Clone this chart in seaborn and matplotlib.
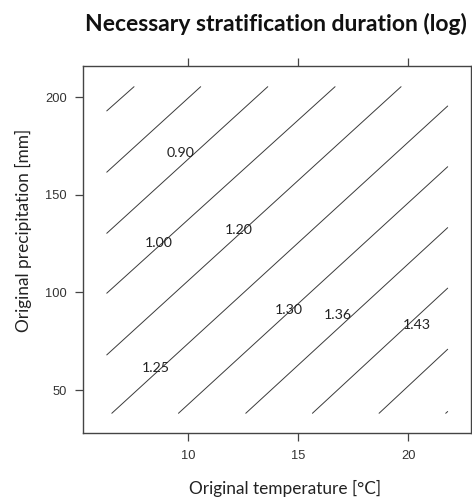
import numpy as np
import pandas as pd
import matplotlib
matplotlib.use("Agg")
import matplotlib.pyplot as plt
import seaborn as sns

# ---- data (contour lines as start/end points) ----
line_id  = ["L1", "L2", "L3", "L4", "L5", "L6", "L7", "L8", "L9", "L10", "L11"]
start_T  = [6.29, 6.29, 6.29, 6.29, 6.29, 6.52, 9.55, 12.61, 15.64, 18.67, 21.70]
start_P  = [193.0, 161.6, 130.3, 99.6, 68.0, 38.1, 38.1, 38.1, 38.1, 38.1, 38.1]
end_T    = [7.53, 10.56, 13.61, 16.67, 19.67, 21.79, 21.79, 21.79, 21.79, 21.79, 21.79]
end_P    = [205.4, 205.4, 205.4, 205.4, 205.4, 195.5, 164.4, 133.2, 102.2, 70.9, 39.0]

# contour labels and where they sit
label_text = ["0.90", "1.00", "1.20", "1.25", "1.30", "1.36", "1.43"]
label_T    = [9.64, 8.65, 12.29, 8.54, 14.55, 16.78, 20.37]
label_P    = [171.5, 125.1, 132.0, 61.4, 90.8, 88.2, 83.4]

x_ticks = [10, 15, 20]
y_ticks = [50, 100, 150, 200]

title = "Necessary stratification duration (log)"
x_label = "Original temperature [°C]"
y_label = "Original precipitation [mm]"

# ---- build a long table ----
rows = []
for lid, t0, p0, t1, p1 in zip(line_id, start_T, start_P, end_T, end_P):
    rows.append({"line": lid, "T": t0, "P": p0, "order": 0})
    rows.append({"line": lid, "T": t1, "P": p1, "order": 1})
df = pd.DataFrame(rows)

sns.set_style("white")
plt.rcParams["font.family"] = ["Lato", "DejaVu Sans"]

fig = plt.figure(figsize=(4.72, 4.97), dpi=100)
ax = fig.add_axes([83 / 472, 1 - 433 / 497, 388 / 472, 367 / 497])

sns.lineplot(data=df, x="T", y="P", units="line", estimator=None, sort=False,
             color="#3a3a3a", linewidth=0.7, ax=ax, legend=False)

for txt, t, p in zip(label_text, label_T, label_P):
    ax.text(t, p, txt, ha="center", va="center", fontsize=10.2,
            color="#222222", family=["Lato", "DejaVu Sans"])

ax.set_xlim(5.21, 22.85)
ax.set_ylim(28.0, 216.0)
ax.set_xticks(x_ticks)
ax.set_yticks(y_ticks)
ax.set_xticklabels([str(v) for v in x_ticks], family=["Liberation Sans"], fontsize=9.3, color="#333333")
ax.set_yticklabels([str(v) for v in y_ticks], family=["Liberation Sans"], fontsize=9.3, color="#333333")
ax.tick_params(axis="x", which="both", direction="out", length=5.5, width=0.9,
               color="#444444", top=True, bottom=True, labeltop=False, pad=7)
ax.tick_params(axis="y", which="both", direction="out", length=5.5, width=0.9,
               color="#444444", left=True, right=False, pad=6)
for s in ax.spines.values():
    s.set_color("#444444")
    s.set_linewidth(1.0)
    s.set_visible(True)

ax.set_xlabel(x_label, fontsize=12.4, color="#222222", va="top")
ax.set_ylabel(y_label, fontsize=12.4, color="#222222", va="bottom")
ax.xaxis.set_label_coords(0.5206, -0.128)
ax.yaxis.set_label_coords(-0.131, 0.553)

fig.text(0.5837, 1 - 31 / 497, title, ha="center", va="baseline",
         fontsize=16.5, fontweight="bold", color="#111111",
         family=["Lato", "DejaVu Sans"])

fig.savefig("out.png", dpi=100)
